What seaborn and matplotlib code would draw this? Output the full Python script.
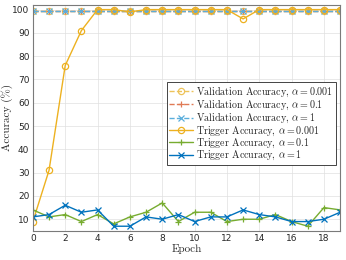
import numpy as np
import pandas as pd
import matplotlib
matplotlib.use("Agg")
import matplotlib.pyplot as plt
import seaborn as sns

epochs = list(range(20))

val_001 = [99.4] * 20
val_01 = [99.4] * 20
val_1 = [99.4] * 20

trig_001 = [9, 31, 76, 91, 100, 100, 99, 100, 100, 100, 100, 100, 100, 96, 100, 100, 100, 100, 100, 100]
trig_01 = [14, 11, 12, 9, 12, 8, 11, 13, 17, 9, 13, 13, 9, 10, 10, 12, 9, 7, 15, 14]
trig_1 = [11, 12, 16, 13, 14, 7, 7, 11, 10, 12, 9, 11, 11, 14, 12, 11, 9, 9, 10, 13]

labels = [
    r"Validation Accuracy, $\alpha = 0.001$",
    r"Validation Accuracy, $\alpha = 0.1$",
    r"Validation Accuracy, $\alpha = 1$",
    r"Trigger Accuracy, $\alpha = 0.001$",
    r"Trigger Accuracy, $\alpha = 0.1$",
    r"Trigger Accuracy, $\alpha = 1$",
]

sns.set_style("whitegrid")
plt.rcParams["font.family"] = ["DejaVu Sans"]
plt.rcParams["mathtext.fontset"] = "cm"

fig = plt.figure(figsize=(3.46, 2.60), dpi=100)
ax = fig.add_axes([0.095, 0.112, 0.888, 0.869])

series = [
    (val_001, "#EDC35A", "o", "--"),
    (val_01, "#E07A55", "+", "--"),
    (val_1, "#5AAEDC", "x", "--"),
    (trig_001, "#EDB120", "o", "-"),
    (trig_01, "#77AC30", "+", "-"),
    (trig_1, "#0072BD", "x", "-"),
]

for (vals, color, mk, ls), lab in zip(series, labels):
    sns.lineplot(x=epochs, y=vals, ax=ax, color=color, marker=mk, linestyle=ls,
                 linewidth=1.0, markersize=4.5, markerfacecolor="none",
                 markeredgecolor=color, markeredgewidth=0.9, label=lab)

ax.set_xlim(0, 19)
ax.set_ylim(5, 102)
ax.set_xticks(range(0, 19, 2))
ax.set_yticks(range(10, 101, 10))
ax.tick_params(labelsize=6.5, direction="in", length=2.5, pad=2.5, colors="#262626")
for s in ax.spines.values():
    s.set_color("#7A7A7A")
    s.set_linewidth(0.8)
ax.grid(True, color="#E0E0E0", linewidth=0.5)

ax.set_xlabel("Epoch", fontsize=8, family="cmr10", labelpad=0.5)
ax.set_ylabel("Accuracy (%)", fontsize=8, family="cmr10")
ax.yaxis.set_label_coords(-0.066, 0.5)

leg = ax.legend(loc="upper left", bbox_to_anchor=(0.436, 0.66), fontsize=7.2,
                frameon=True, fancybox=False, framealpha=1, edgecolor="#262626",
                borderpad=0.25, labelspacing=-0.1, handlelength=2.4,
                handletextpad=0.3, borderaxespad=0)
leg.get_frame().set_linewidth(0.6)
for t in leg.get_texts():
    t.set_family("cmr10")

fig.savefig("out.png", dpi=100)
